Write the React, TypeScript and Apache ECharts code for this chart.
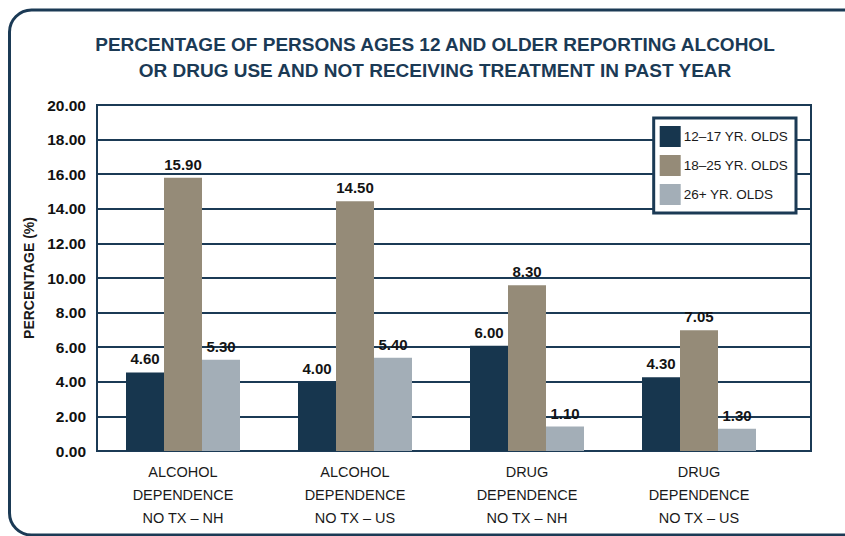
import React, { useEffect, useRef } from "react";
import * as echarts from "echarts";

const categories = [
  "ALCOHOL\nDEPENDENCE\nNO TX – NH",
  "ALCOHOL\nDEPENDENCE\nNO TX – US",
  "DRUG\nDEPENDENCE\nNO TX – NH",
  "DRUG\nDEPENDENCE\nNO TX – US",
];
const seriesNames = ["12–17 YR. OLDS", "18–25 YR. OLDS", "26+ YR. OLDS"];
// bar heights as drawn in the picture
const youthBars = [4.54, 3.96, 6.09, 4.27];
const youngAdultBars = [15.79, 14.43, 9.58, 6.98];
const adultBars = [5.28, 5.39, 1.41, 1.29];
// printed value labels
const youthLabels = ["4.60", "4.00", "6.00", "4.30"];
const youngAdultLabels = ["15.90", "14.50", "8.30", "7.05"];
const adultLabels = ["5.30", "5.40", "1.10", "1.30"];
const yMin = 0;
const yMax = 20;
const yStep = 2;

const NAVY = "#1b3a55";
const colors = ["#17364e", "#958b78", "#a3aeb7"];

export default function App() {
  const ref = useRef<HTMLDivElement>(null);
  useEffect(() => {
    if (!ref.current) return;
    const chart = echarts.init(ref.current, undefined, { renderer: "svg" });
    const sans = "'Liberation Sans', Arial, sans-serif";
    const mkSeries = (i: number, vals: number[], labels: string[]) => ({
      name: seriesNames[i],
      type: "bar",
      xAxisIndex: 1,
      yAxisIndex: 1,
      data: vals,
      barWidth: 38,
      barGap: "0%",
      itemStyle: { color: colors[i] },
      label: {
        show: true,
        position: "top",
        distance: 6,
        formatter: (p: any) => labels[p.dataIndex],
        fontFamily: sans,
        fontWeight: "bold",
        fontSize: 15,
        color: "#141414",
      },
    });
    chart.setOption({
      animation: false,
      backgroundColor: "#ffffff",
      graphic: [
        {
          type: "rect",
          shape: { x: 9.5, y: 10, width: 860, height: 525, r: 22 },
          style: { fill: "none", stroke: NAVY, lineWidth: 3 },
          z: 0,
        },
      ],
      title: {
        text: "PERCENTAGE OF PERSONS AGES 12 AND OLDER REPORTING ALCOHOL\nOR DRUG USE AND NOT RECEIVING TREATMENT IN PAST YEAR",
        left: 435,
        top: 31,
        textAlign: "center",
        padding: 0,
        textStyle: {
          fontFamily: sans,
          fontWeight: "bold",
          fontSize: 19,
          lineHeight: 26,
          color: NAVY,
        },
      },
      legend: {
        orient: "vertical",
        right: 49,
        top: 118,
        itemWidth: 21,
        itemHeight: 21,
        itemGap: 8,
        padding: [8, 8, 8, 6],
        backgroundColor: "#ffffff",
        borderColor: NAVY,
        borderWidth: 3,
        borderRadius: 0,
        icon: "rect",
        data: seriesNames,
        textStyle: {
          fontFamily: sans,
          fontSize: 13.5,
          color: "#1a1a1a",
          padding: [0, 0, 0, -2],
        },
        z: 10,
      },
      grid: [
        {
          left: 97,
          right: 34,
          top: 105,
          bottom: 85,
          show: true,
          borderColor: NAVY,
          borderWidth: 2,
          backgroundColor: "transparent",
        },
        {
          left: 97,
          right: 60,
          top: 105,
          bottom: 85,
        },
      ],
      xAxis: [
        { type: "value", gridIndex: 0, show: false, min: 0, max: 1 },
        {
          type: "category",
          gridIndex: 1,
          data: categories,
          axisLine: { show: false },
          axisTick: { show: false },
          axisLabel: {
            fontFamily: sans,
            fontSize: 14.5,
            lineHeight: 23,
            color: "#1a1a1a",
            margin: 9,
          },
        },
      ],
      yAxis: [
        {
          type: "value",
          gridIndex: 0,
          min: yMin,
          max: yMax,
          interval: yStep,
          name: "PERCENTAGE (%)",
          nameLocation: "middle",
          nameGap: 61,
          nameTextStyle: {
            fontFamily: sans,
            fontWeight: "bold",
            fontSize: 14,
            color: "#1a1a1a",
          },
          axisLine: { show: true, lineStyle: { color: NAVY, width: 2 } },
          axisTick: { show: false },
          axisLabel: {
            formatter: (v: number) => v.toFixed(2),
            fontFamily: sans,
            fontWeight: "bold",
            fontSize: 15.5,
            color: "#111111",
            margin: 11,
          },
          splitLine: { show: true, lineStyle: { color: NAVY, width: 2 } },
        },
        {
          type: "value",
          gridIndex: 1,
          min: yMin,
          max: yMax,
          interval: yStep,
          show: false,
          splitLine: { show: false },
        },
      ],
      series: [
        mkSeries(0, youthBars, youthLabels),
        mkSeries(1, youngAdultBars, youngAdultLabels),
        mkSeries(2, adultBars, adultLabels),
      ],
    });
    return () => chart.dispose();
  }, []);
  return (
    <div
      ref={ref}
      style={{ position: "fixed", left: 0, top: 0, width: 845, height: 536 }}
    />
  );
}
